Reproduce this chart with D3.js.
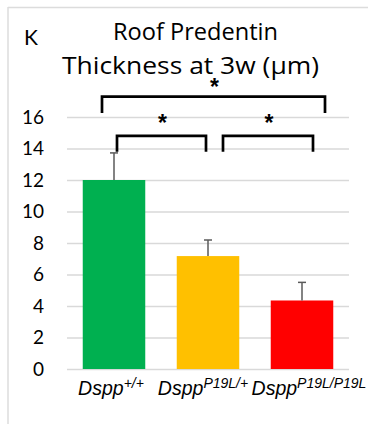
<!DOCTYPE html>
<html>
<head>
<meta charset="utf-8">
<script src="https://cdn.jsdelivr.net/npm/d3@7"></script>
<style>
  body { margin: 0; background: #fff; }
  svg { display: block; }
</style>
</head>
<body>
<svg id="chart"></svg>
<script>
// data
const groups = ["+/+", "P19L/+", "P19L/P19L"];
const means = [12.0, 7.17, 4.35];
const errors = [1.72, 1.02, 1.15];
const colors = ["#00b050", "#ffc000", "#ff0000"];
const yTicks = [0, 2, 4, 6, 8, 10, 12, 14, 16];
// significance brackets: groups joined, bar level and leg level (in µm)
const brackets = [
    { a: 0, b: 2, offA: -12, offB: 23, top: 17.3, leg: 16.25, starDy: -2 },
    { a: 0, b: 1, offA: 3, offB: -2, top: 14.8, leg: 13.8, starDy: -5 },
    { a: 1, b: 2, offA: 15, offB: 11, top: 14.8, leg: 13.8, starDy: -5 }
];
// label nudges so the long names sit like the original
const labelShift = [-3, -5, 7];

const width = 368, height = 424;
const margin = { top: 117, right: 19, bottom: 55, left: 67 };

const svg = d3.select("#chart")
    .attr("width", width)
    .attr("height", height);

// light frame
svg.append("line").attr("x1", 8).attr("x2", width).attr("y1", 7.5).attr("y2", 7.5)
    .attr("stroke", "#dcdcdc").attr("stroke-width", 1.5);
svg.append("line").attr("x1", 8).attr("x2", 8).attr("y1", 7).attr("y2", height)
    .attr("stroke", "#dcdcdc").attr("stroke-width", 1.5);

const x = d3.scaleBand()
    .domain(groups)
    .range([margin.left, width - margin.right])
    .paddingInner(0.335)
    .paddingOuter(0.1675);

const y = d3.scaleLinear()
    .domain([0, 16])
    .range([height - margin.bottom, margin.top]);

// gridlines
svg.append("g")
    .selectAll("line").data(yTicks)
    .enter().append("line")
    .attr("x1", margin.left)
    .attr("x2", width - margin.right)
    .attr("y1", d => y(d) + 0.5)
    .attr("y2", d => y(d) + 0.5)
    .attr("stroke", "#d9d9d9")
    .attr("stroke-width", 1.3);

// y axis labels
const yAxis = d3.axisLeft(y).tickValues(yTicks).tickSize(0).tickPadding(23);
const gy = svg.append("g")
    .attr("transform", `translate(${margin.left},0)`)
    .call(yAxis);
gy.select(".domain").remove();
gy.selectAll("text")
    .attr("font-family", "Lato, 'Open Sans', sans-serif")
    .attr("font-size", "19px")
    .attr("fill", "#000");

// bars
svg.append("g")
    .selectAll("rect").data(groups)
    .enter().append("rect")
    .attr("x", d => x(d))
    .attr("y", (d, i) => y(means[i]))
    .attr("width", x.bandwidth())
    .attr("height", (d, i) => y(0) - y(means[i]))
    .attr("fill", (d, i) => colors[i]);

// error bars (upper only)
const eb = svg.append("g").attr("stroke", "#5a5a5a").attr("stroke-width", 1.5);
groups.forEach((g, i) => {
    const cx = x(g) + x.bandwidth() / 2;
    eb.append("line")
        .attr("x1", cx).attr("x2", cx)
        .attr("y1", y(means[i])).attr("y2", y(means[i] + errors[i]));
    eb.append("line")
        .attr("x1", cx - 4).attr("x2", cx + 4)
        .attr("y1", y(means[i] + errors[i])).attr("y2", y(means[i] + errors[i]));
});

// significance brackets
const br = svg.append("g");
brackets.forEach(b => {
    const x1 = x(groups[b.a]) + x.bandwidth() / 2 + b.offA;
    const x2 = x(groups[b.b]) + x.bandwidth() / 2 + b.offB;
    br.append("path")
        .attr("d", `M${x1},${y(b.leg)}V${y(b.top)}H${x2}V${y(b.leg)}`)
        .attr("fill", "none")
        .attr("stroke", "#000")
        .attr("stroke-width", 2.7);
    br.append("text")
        .attr("x", (x1 + x2) / 2 + 1)
        .attr("y", y(b.top) + b.starDy)
        .attr("text-anchor", "middle")
        .attr("font-family", "'Liberation Sans', Arial, sans-serif")
        .attr("font-weight", "bold")
        .attr("font-size", "23px")
        .text("*");
});

// x labels
const xl = svg.append("g")
    .selectAll("text").data(groups)
    .enter().append("text")
    .attr("x", (d, i) => x(d) + x.bandwidth() / 2 + labelShift[i])
    .attr("y", 395)
    .attr("text-anchor", "middle")
    .attr("font-family", "'Liberation Sans', Arial, sans-serif")
    .attr("font-style", "italic")
    .attr("font-size", "19.5px")
    .attr("fill", "#000");
xl.append("tspan").text("Dspp");
xl.append("tspan")
    .attr("font-size", "14px")
    .attr("dy", -7)
    .text(d => d);

// title
svg.append("text")
    .attr("x", 31)
    .attr("y", 45)
    .attr("text-anchor", "middle")
    .attr("font-family", "Lato, 'Open Sans', sans-serif")
    .attr("font-size", "21px")
    .text("K");

const title = svg.append("text")
    .attr("text-anchor", "middle")
    .attr("font-family", "'Open Sans', Lato, sans-serif")
    .attr("font-size", "23.5px")
    .attr("fill", "#000");
title.append("tspan").attr("x", 195.5).attr("y", 40)
    .attr("textLength", 165).attr("lengthAdjust", "spacingAndGlyphs")
    .text("Roof Predentin");
title.append("tspan").attr("x", 190.5).attr("y", 74)
    .attr("textLength", 257).attr("lengthAdjust", "spacingAndGlyphs")
    .text("Thickness at 3w (µm)");
</script>
</body>
</html>
